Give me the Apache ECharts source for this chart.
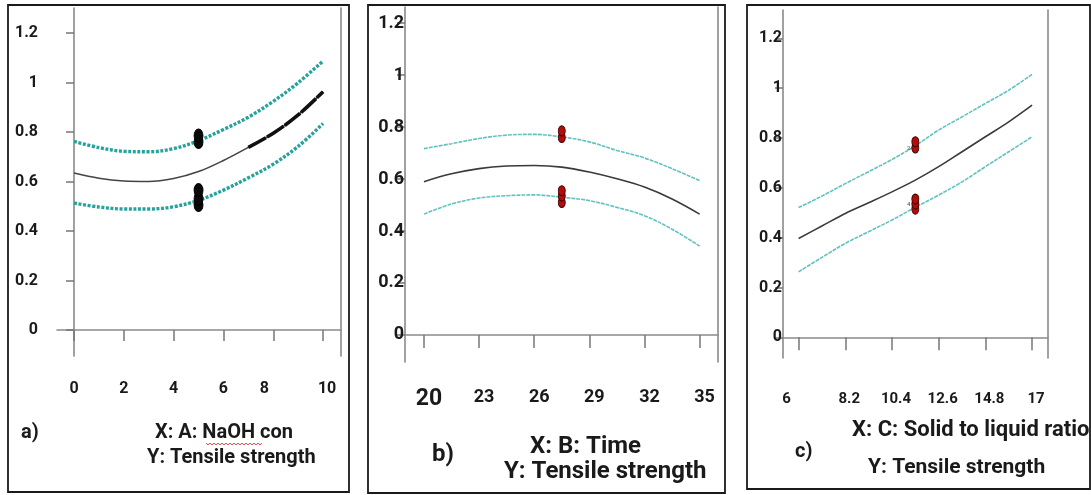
<!DOCTYPE html>
<html>
<head>
<meta charset="utf-8">
<script src="https://cdn.jsdelivr.net/npm/echarts@6/dist/echarts.min.js"></script>
<style>
html,body{margin:0;padding:0;background:#fff;}
#c{width:1091px;height:495px;}
</style>
</head>
<body>
<div id="c"></div>
<script>
// ---------- data ----------
const yTicks = [0, 0.2, 0.4, 0.6, 0.8, 1, 1.2];

// panel a: NaOH concentration
const aX = [0, 1, 2, 3, 4, 5, 6, 7, 8, 9, 10];
const aMid = [0.634, 0.613, 0.602, 0.600, 0.612, 0.640, 0.685, 0.738, 0.795, 0.869, 0.963];
const aUpper = [0.762, 0.737, 0.722, 0.720, 0.733, 0.765, 0.810, 0.860, 0.924, 0.999, 1.087];
const aLower = [0.513, 0.497, 0.489, 0.489, 0.498, 0.524, 0.565, 0.615, 0.670, 0.742, 0.834];
const aBoldFrom = 7; // index where the bold part of the fit line starts
const aPointsX = [5, 5, 5, 5, 5];
const aPointsY = [0.760, 0.785, 0.505, 0.530, 0.565];
const aTicksX = [0, 2, 4, 6, 8, 10];

// panel b: Time
const bX = [20, 21.5, 23, 24.5, 26, 27.5, 29, 30.5, 32, 33.5, 35];
const bMid = [0.590, 0.620, 0.640, 0.650, 0.652, 0.646, 0.627, 0.601, 0.569, 0.523, 0.465];
const bUpper = [0.717, 0.736, 0.756, 0.769, 0.772, 0.762, 0.743, 0.710, 0.681, 0.640, 0.594];
const bLower = [0.465, 0.504, 0.527, 0.536, 0.539, 0.530, 0.517, 0.491, 0.459, 0.407, 0.342];
const bPointsX = [27.5, 27.5, 27.5, 27.5, 27.5];
const bPointsY = [0.760, 0.785, 0.510, 0.535, 0.555];
const bTicksX = [20, 23, 26, 29, 32, 35];

// panel c: Solid to liquid ratio
const cX = [6, 7.1, 8.2, 9.3, 10.4, 11.5, 12.6, 13.7, 14.8, 15.9, 17];
const cMid = [0.397, 0.447, 0.497, 0.540, 0.584, 0.631, 0.685, 0.745, 0.805, 0.865, 0.932];
const cUpper = [0.521, 0.567, 0.617, 0.665, 0.714, 0.769, 0.832, 0.885, 0.939, 0.992, 1.056];
const cLower = [0.263, 0.321, 0.377, 0.424, 0.471, 0.522, 0.571, 0.624, 0.685, 0.745, 0.805];
const cPointsX = [11.5, 11.5, 11.5, 11.5, 11.5];
const cPointsY = [0.760, 0.785, 0.515, 0.535, 0.555];
const cPointLabels = ['2', '', '', '4', ''];
const cTicksX = [6, 8.2, 10.4, 12.6, 14.8, 17];

const titles = {
  a: ['a)', 'X: A: NaOH con', 'Y: Tensile strength'],
  b: ['b)', 'X: B: Time', 'Y: Tensile strength'],
  c: ['c)', 'X: C: Solid to liquid ratio', 'Y: Tensile strength']
};

// ---------- helpers ----------
const FONT = 'Roboto, "Liberation Sans", sans-serif';
const INK = '#1a1a1a';
const zip = (xs, ys) => xs.map((x, i) => [x, ys[i]]);
const yFmt = v => String(Math.round(v * 10) / 10);

function rs(fs, pad) {
  const o = { fontSize: fs, fontWeight: 'bold', fontFamily: FONT, color: INK };
  if (pad) o.padding = pad;
  return o;
}
function xAxisCfg(idx, min, max, ticks, tickLen, margin, richFor, fontSize, bigSize) {
  return {
    type: 'value', gridIndex: idx, min: min, max: max, position: 'bottom',
    splitLine: { show: false },
    axisLine: { show: true, lineStyle: { color: '#8a8a8a', width: 1.6 } },
    axisTick: { show: true, customValues: ticks, length: tickLen, lineStyle: { color: '#777', width: 1.5 } },
    axisLabel: {
      show: true, customValues: ticks, margin: margin,
      color: INK, fontWeight: 'bold', fontFamily: FONT, fontSize: fontSize,
      formatter: v => '{' + richFor(v) + '|' + String(Math.round(v * 10) / 10) + '}',
      rich: {
        n: rs(fontSize),
        r5: rs(fontSize, [0, 0, 0, 10]),
        r4: rs(fontSize, [0, 0, 0, 8]),
        l9: rs(fontSize, [0, 18, 0, 0]),
        l12: rs(fontSize, [0, 24, 0, 0]),
        big: rs(bigSize || fontSize, [0, 0, 0, 10])
      }
    }
  };
}
function yAxisCfg(idx, min, max, margin, fontSize) {
  return {
    type: 'value', gridIndex: idx, min: min, max: max, position: 'left',
    splitLine: { show: false },
    axisLine: { show: true, lineStyle: { color: '#8a8a8a', width: 1.6 } },
    axisTick: { show: true, customValues: yTicks, length: 8, lineStyle: { color: '#777', width: 1.5 } },
    axisLabel: { show: true, customValues: yTicks, margin: margin, formatter: yFmt,
      color: INK, fontWeight: 'bold', fontFamily: FONT, fontSize: fontSize }
  };
}
function yRightCfg(idx, min, max) {
  return {
    type: 'value', gridIndex: idx, min: min, max: max, position: 'right',
    splitLine: { show: false },
    axisLine: { show: true, onZero: false, lineStyle: { color: '#8a8a8a', width: 1.6 } },
    axisTick: { show: false }, axisLabel: { show: false }
  };
}
function lineSeries(xi, yi, data, color, width, type) {
  return {
    type: 'line', xAxisIndex: xi, yAxisIndex: yi, data: data, smooth: 0.35,
    symbol: 'none', silent: true, z: 3,
    lineStyle: { color: color, width: width, type: type || 'solid', cap: 'butt' }
  };
}
function pointSeries(xi, yi, data, color, border, size, labels) {
  return {
    type: 'scatter', xAxisIndex: xi, yAxisIndex: yi, z: 5,
    data: data.map((d, i) => ({
      value: d,
      label: labels && labels[i] ? { show: true, formatter: labels[i], position: 'left', distance: 1,
        fontSize: 6, color: '#444', fontFamily: FONT } : { show: false }
    })),
    symbol: 'circle', symbolSize: size,
    itemStyle: { color: color, borderColor: border, borderWidth: 1, opacity: 1 }
  };
}
function textEl(x, y, text, size) {
  return { type: 'text', left: x, top: y, z: 10,
    style: { text: text, fontSize: size, fontWeight: 'bold', fontFamily: FONT, fill: INK } };
}

const TEAL_A = '#25a29c';
const TEAL_B = '#62c2c0';

// ---------- option ----------
const option = {
  animation: false,
  backgroundColor: '#fff',
  grid: [
    { left: 57, top: 8, width: 284, height: 348 },
    { left: 405, top: 7, width: 313, height: 355 },
    { left: 783, top: 10, width: 265, height: 348 }
  ],
  xAxis: [
    xAxisCfg(0, -0.683, 10.72, aTicksX, 11, 25, v => v === 8 ? 'l9' : (v === 10 ? 'r4' : 'n'), 16),
    xAxisCfg(1, 18.97, 36.0, bTicksX, 13, 26, v => v === 20 ? 'big' : 'r5', 18, 23),
    xAxisCfg(2, 5.266, 17.75, cTicksX, 13, 34, v => v === 6 ? 'l12' : 'r4', 15)
  ],
  yAxis: [
    yAxisCfg(0, -0.105, 1.301, 19, 16),
    yAxisCfg(1, -0.104, 1.262, 1, 18),
    yAxisCfg(2, -0.083, 1.314, 1, 16),
    yRightCfg(0, -0.105, 1.301),
    yRightCfg(1, -0.104, 1.262),
    yRightCfg(2, -0.083, 1.314)
  ],
  series: [
    // panel a
    lineSeries(0, 0, zip(aX, aUpper), TEAL_A, 3.4, [3, 1.6]),
    lineSeries(0, 0, zip(aX, aLower), TEAL_A, 3.4, [3, 1.6]),
    lineSeries(0, 0, zip(aX, aMid), '#444', 1.6),
    lineSeries(0, 0, zip(aX.slice(aBoldFrom), aMid.slice(aBoldFrom)), '#111', 3.6, [20, 1.2]),
    pointSeries(0, 0, zip(aPointsX, aPointsY), '#0a0a0a', '#000', [9, 13]),
    // panel b
    lineSeries(1, 1, zip(bX, bUpper), TEAL_B, 1.6, [4, 1]),
    lineSeries(1, 1, zip(bX, bLower), TEAL_B, 1.6, [4, 1]),
    lineSeries(1, 1, zip(bX, bMid), '#3a3a3a', 1.6),
    pointSeries(1, 1, zip(bPointsX, bPointsY), '#b00d0d', '#4a0000', [7, 10]),
    // panel c
    lineSeries(2, 2, zip(cX, cUpper), TEAL_B, 1.6, [4, 1]),
    lineSeries(2, 2, zip(cX, cLower), TEAL_B, 1.6, [4, 1]),
    lineSeries(2, 2, zip(cX, cMid), '#3a3a3a', 1.6),
    pointSeries(2, 2, zip(cPointsX, cPointsY), '#b00d0d', '#4a0000', [7, 10], cPointLabels)
  ],
  graphic: [
    // panel frames
    { type: 'rect', shape: { x: 8, y: 5, width: 341, height: 487 }, style: { fill: 'none', stroke: INK, lineWidth: 1.8 }, silent: true },
    { type: 'rect', shape: { x: 368, y: 5, width: 357, height: 488 }, style: { fill: 'none', stroke: INK, lineWidth: 1.8 }, silent: true },
    { type: 'rect', shape: { x: 747, y: 5, width: 343, height: 484 }, style: { fill: 'none', stroke: INK, lineWidth: 1.8 }, silent: true },
    // panel a captions
    textEl(21, 423, titles.a[0], 20),
    textEl(155, 423, titles.a[1], 20),
    textEl(147, 448, titles.a[2], 20),
    { type: 'polyline', silent: true, z: 11,
      shape: { points: [[206,443],[208,445],[210,443],[212,445],[214,443],[216,445],[218,443],[220,445],[222,443],[224,445],[226,443],[228,445],[230,443],[232,445],[234,443],[236,445],[238,443],[240,445],[242,443],[244,445],[246,443],[248,445],[250,443],[252,445],[254,443],[256,445],[258,443],[260,445],[262,443]] },
      style: { stroke: '#e04040', lineWidth: 0.9, fill: 'none' } },
    // panel b captions
    textEl(432, 443, titles.b[0], 24),
    textEl(530, 435, titles.b[1], 24),
    textEl(504, 460, titles.b[2], 24),
    // panel c captions
    textEl(852, 419, titles.c[1], 22),
    textEl(795, 442, titles.c[0], 20),
    textEl(868, 457, titles.c[2], 21)
  ]
};

const chart = echarts.init(document.getElementById('c'), null, { renderer: 'canvas', width: 1091, height: 495 });
chart.setOption(option);
</script>
</body>
</html>
